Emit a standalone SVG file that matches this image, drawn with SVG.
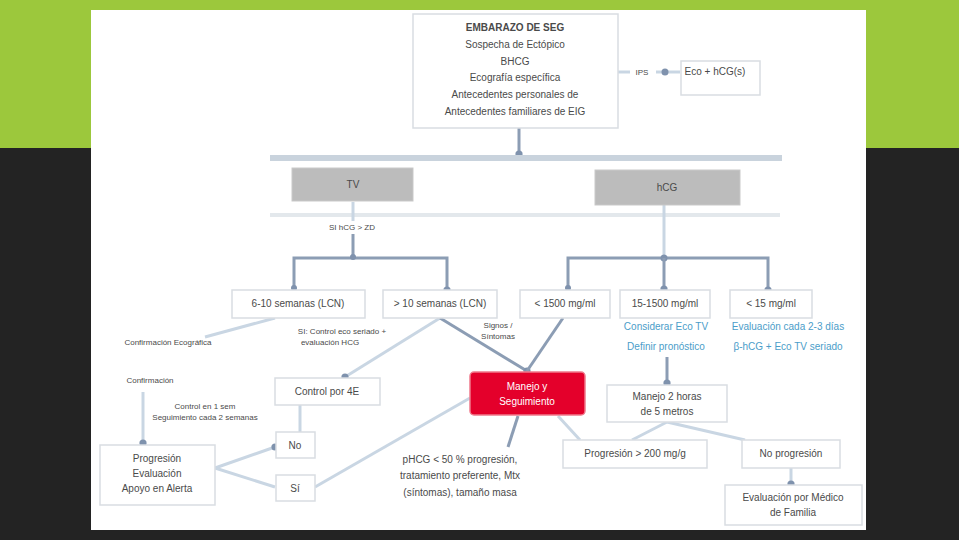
<svg xmlns="http://www.w3.org/2000/svg" width="959" height="540" viewBox="0 0 959 540">
<defs>
<style>
text{font-family:"Liberation Sans",Arial,sans-serif;font-size:10px;fill:#4a4a4a;text-anchor:middle}
.b{fill:#fff;stroke:#d9dde2;stroke-width:1.5}
.g{fill:#bcbcbc;stroke:#c9c9c9;stroke-width:1}
.c{fill:none;stroke:#8c9db4;stroke-width:3}
.cl{fill:none;stroke:#c9d6e3;stroke-width:3}
.blue{fill:#4b9dc9}
.s{font-size:8px}
</style>
<marker id="dot" viewBox="0 0 10 10" refX="5" refY="5" markerWidth="3" markerHeight="3"><circle cx="5" cy="5" r="4" fill="#7f92ad"/></marker>
</defs>
<rect width="959" height="540" fill="#232323"/>
<rect width="959" height="148" fill="#9cc83c"/>
<rect x="91" y="10" width="775" height="520" fill="#fff"/>

<g id="connectors">
<line class="c" x1="519" y1="128" x2="519" y2="154" marker-end="url(#dot)"/>
<rect x="270" y="155" width="512" height="6" fill="#c9d3dd"/>
<rect x="270" y="213" width="510" height="4" fill="#e3e8ec"/>
<line class="cl" x1="618" y1="72" x2="630" y2="72"/>
<line class="cl" x1="656" y1="72" x2="680" y2="72"/>
<circle cx="665" cy="72" r="3.5" fill="#7f92ad"/>
<line class="cl" x1="353" y1="202" x2="353" y2="221"/>
<path class="c" d="M353,234 V258 M294,290 V258 H447 V290" marker-end="url(#dot)"/>
<circle cx="353" cy="257" r="3" fill="#7f92ad"/>
<circle cx="294" cy="288" r="3" fill="#7f92ad"/>
<line class="cl" x1="664" y1="205" x2="664" y2="258"/>
<path class="c" d="M568,290 V258 H768 V290" marker-end="url(#dot)"/>
<circle cx="664" cy="258" r="3.5" fill="#7f92ad"/>
<line class="c" x1="664" y1="258" x2="664" y2="289" marker-end="url(#dot)"/>
<circle cx="568" cy="288" r="3" fill="#7f92ad"/>
<line class="cl" x1="275" y1="318" x2="205" y2="337"/>
<line class="cl" x1="143" y1="392" x2="143" y2="443" marker-end="url(#dot)"/>
<line class="cl" x1="440" y1="318" x2="345" y2="377" marker-end="url(#dot)"/>
<line class="c" x1="440" y1="318" x2="527" y2="371" marker-end="url(#dot)"/>
<line class="c" x1="563" y1="318" x2="527" y2="371"/>
<line class="cl" x1="300" y1="405" x2="300" y2="432"/>
<line class="cl" x1="215" y1="468" x2="275" y2="447" marker-end="url(#dot)"/>
<line class="cl" x1="215" y1="468" x2="275" y2="487"/>
<line class="cl" x1="315" y1="487" x2="470" y2="398"/>
<line class="c" x1="518" y1="416" x2="508" y2="447"/>
<line class="cl" x1="558" y1="416" x2="580" y2="440"/>
<line class="c" x1="667" y1="357" x2="667" y2="383" marker-end="url(#dot)"/>
<line class="cl" x1="667" y1="422" x2="632" y2="440"/>
<line class="cl" x1="667" y1="422" x2="745" y2="440"/>
<line class="cl" x1="791" y1="468" x2="791" y2="484" marker-end="url(#dot)"/>
</g>

<g id="n-top">
<rect class="b" x="413" y="14" width="205" height="114"/>
<text x="515" y="31" style="font-weight:bold">EMBARAZO DE SEG</text>
<text x="515" y="48">Sospecha de Ectópico</text>
<text x="515" y="65">BHCG</text>
<text x="515" y="81">Ecografía específica</text>
<text x="515" y="98">Antecedentes personales de</text>
<text x="515" y="115">Antecedentes familiares de EIG</text>
</g>
<g id="n-ips"><text x="642" y="75" class="s">IPS</text></g>
<g id="n-eco">
<rect class="b" x="681" y="61" width="79" height="34"/>
<text x="715" y="75">Eco + hCG(s)</text>
</g>
<g id="n-tv"><rect class="g" x="292" y="168" width="121" height="33"/><text x="353" y="188">TV</text></g>
<g id="n-hcg"><rect class="g" x="595" y="170" width="145" height="35"/><text x="667" y="191">hCG</text></g>
<g id="n-si"><text x="352" y="230" class="s">SI hCG &gt; ZD</text></g>

<g id="n-610"><rect class="b" x="232" y="290" width="133" height="28"/><text x="298" y="307">6-10 semanas (LCN)</text></g>
<g id="n-10"><rect class="b" x="383" y="290" width="114" height="28"/><text x="440" y="307">&gt; 10 semanas (LCN)</text></g>
<g id="n-1500"><rect class="b" x="520" y="290" width="90" height="28"/><text x="565" y="307">&lt; 1500 mg/ml</text></g>
<g id="n-15"><rect class="b" x="620" y="290" width="90" height="28"/><text x="665" y="307">15-1500 mg/ml</text></g>
<g id="n-lt15"><rect class="b" x="730" y="290" width="82" height="28"/><text x="771" y="307">&lt; 15 mg/ml</text></g>

<g id="n-blue1"><text class="blue" x="666" y="330">Considerar Eco TV</text><text class="blue" x="666" y="350">Definir pronóstico</text></g>
<g id="n-blue2"><text class="blue" x="788" y="330">Evaluación cada 2-3 días</text><text class="blue" x="788" y="350">β-hCG + Eco TV seriado</text></g>

<g id="n-conf-eco"><text x="168" y="345" class="s">Confirmación Ecográfica</text></g>
<g id="n-conf"><text x="150" y="383" class="s">Confirmación</text></g>
<g id="n-ctrl-txt"><text x="205" y="409" class="s">Control en 1 sem</text><text x="205" y="420" class="s">Seguimiento cada 2 semanas</text></g>
<g id="n-si-ctrl"><text x="342" y="334" class="s">SI: Control eco seriado +</text><text x="330" y="345" class="s">evaluación HCG</text></g>
<g id="n-signos"><text x="498" y="328" class="s">Signos /</text><text x="498" y="339" class="s">Síntomas</text></g>

<g id="n-4e"><rect class="b" x="275" y="378" width="105" height="27"/><text x="327" y="395">Control por 4E</text></g>
<g id="n-prog"><rect class="b" x="100" y="445" width="115" height="60"/>
<text x="157" y="462">Progresión</text><text x="157" y="477">Evaluación</text><text x="157" y="492">Apoyo en Alerta</text></g>
<g id="n-no"><rect class="b" x="276" y="432" width="39" height="26"/><text x="295" y="449">No</text></g>
<g id="n-yes"><rect class="b" x="276" y="475" width="39" height="26"/><text x="295" y="492">Sí</text></g>

<g id="n-red"><rect x="470" y="372" width="115" height="43" rx="4" fill="#e4002b" stroke="#f07a8c" stroke-width="1.5"/>
<text x="527" y="390" style="fill:#fff">Manejo y</text><text x="527" y="405" style="fill:#fff">Seguimiento</text></g>
<g id="n-phcg"><text x="460" y="463">pHCG &lt; 50 % progresión,</text><text x="460" y="479">tratamiento preferente, Mtx</text><text x="460" y="496">(síntomas), tamaño masa</text></g>

<g id="n-manejo"><rect class="b" x="607" y="385" width="120" height="37"/><text x="667" y="400">Manejo 2 horas</text><text x="667" y="415">de 5 metros</text></g>
<g id="n-progr"><rect class="b" x="563" y="440" width="144" height="28"/><text x="635" y="457">Progresión &gt; 200 mg/g</text></g>
<g id="n-noprog"><rect class="b" x="742" y="440" width="98" height="28"/><text x="791" y="457">No progresión</text></g>
<g id="n-eval"><rect class="b" x="725" y="485" width="137" height="40"/><text x="793" y="501">Evaluación por Médico</text><text x="793" y="516">de Familia</text></g>
</svg>
